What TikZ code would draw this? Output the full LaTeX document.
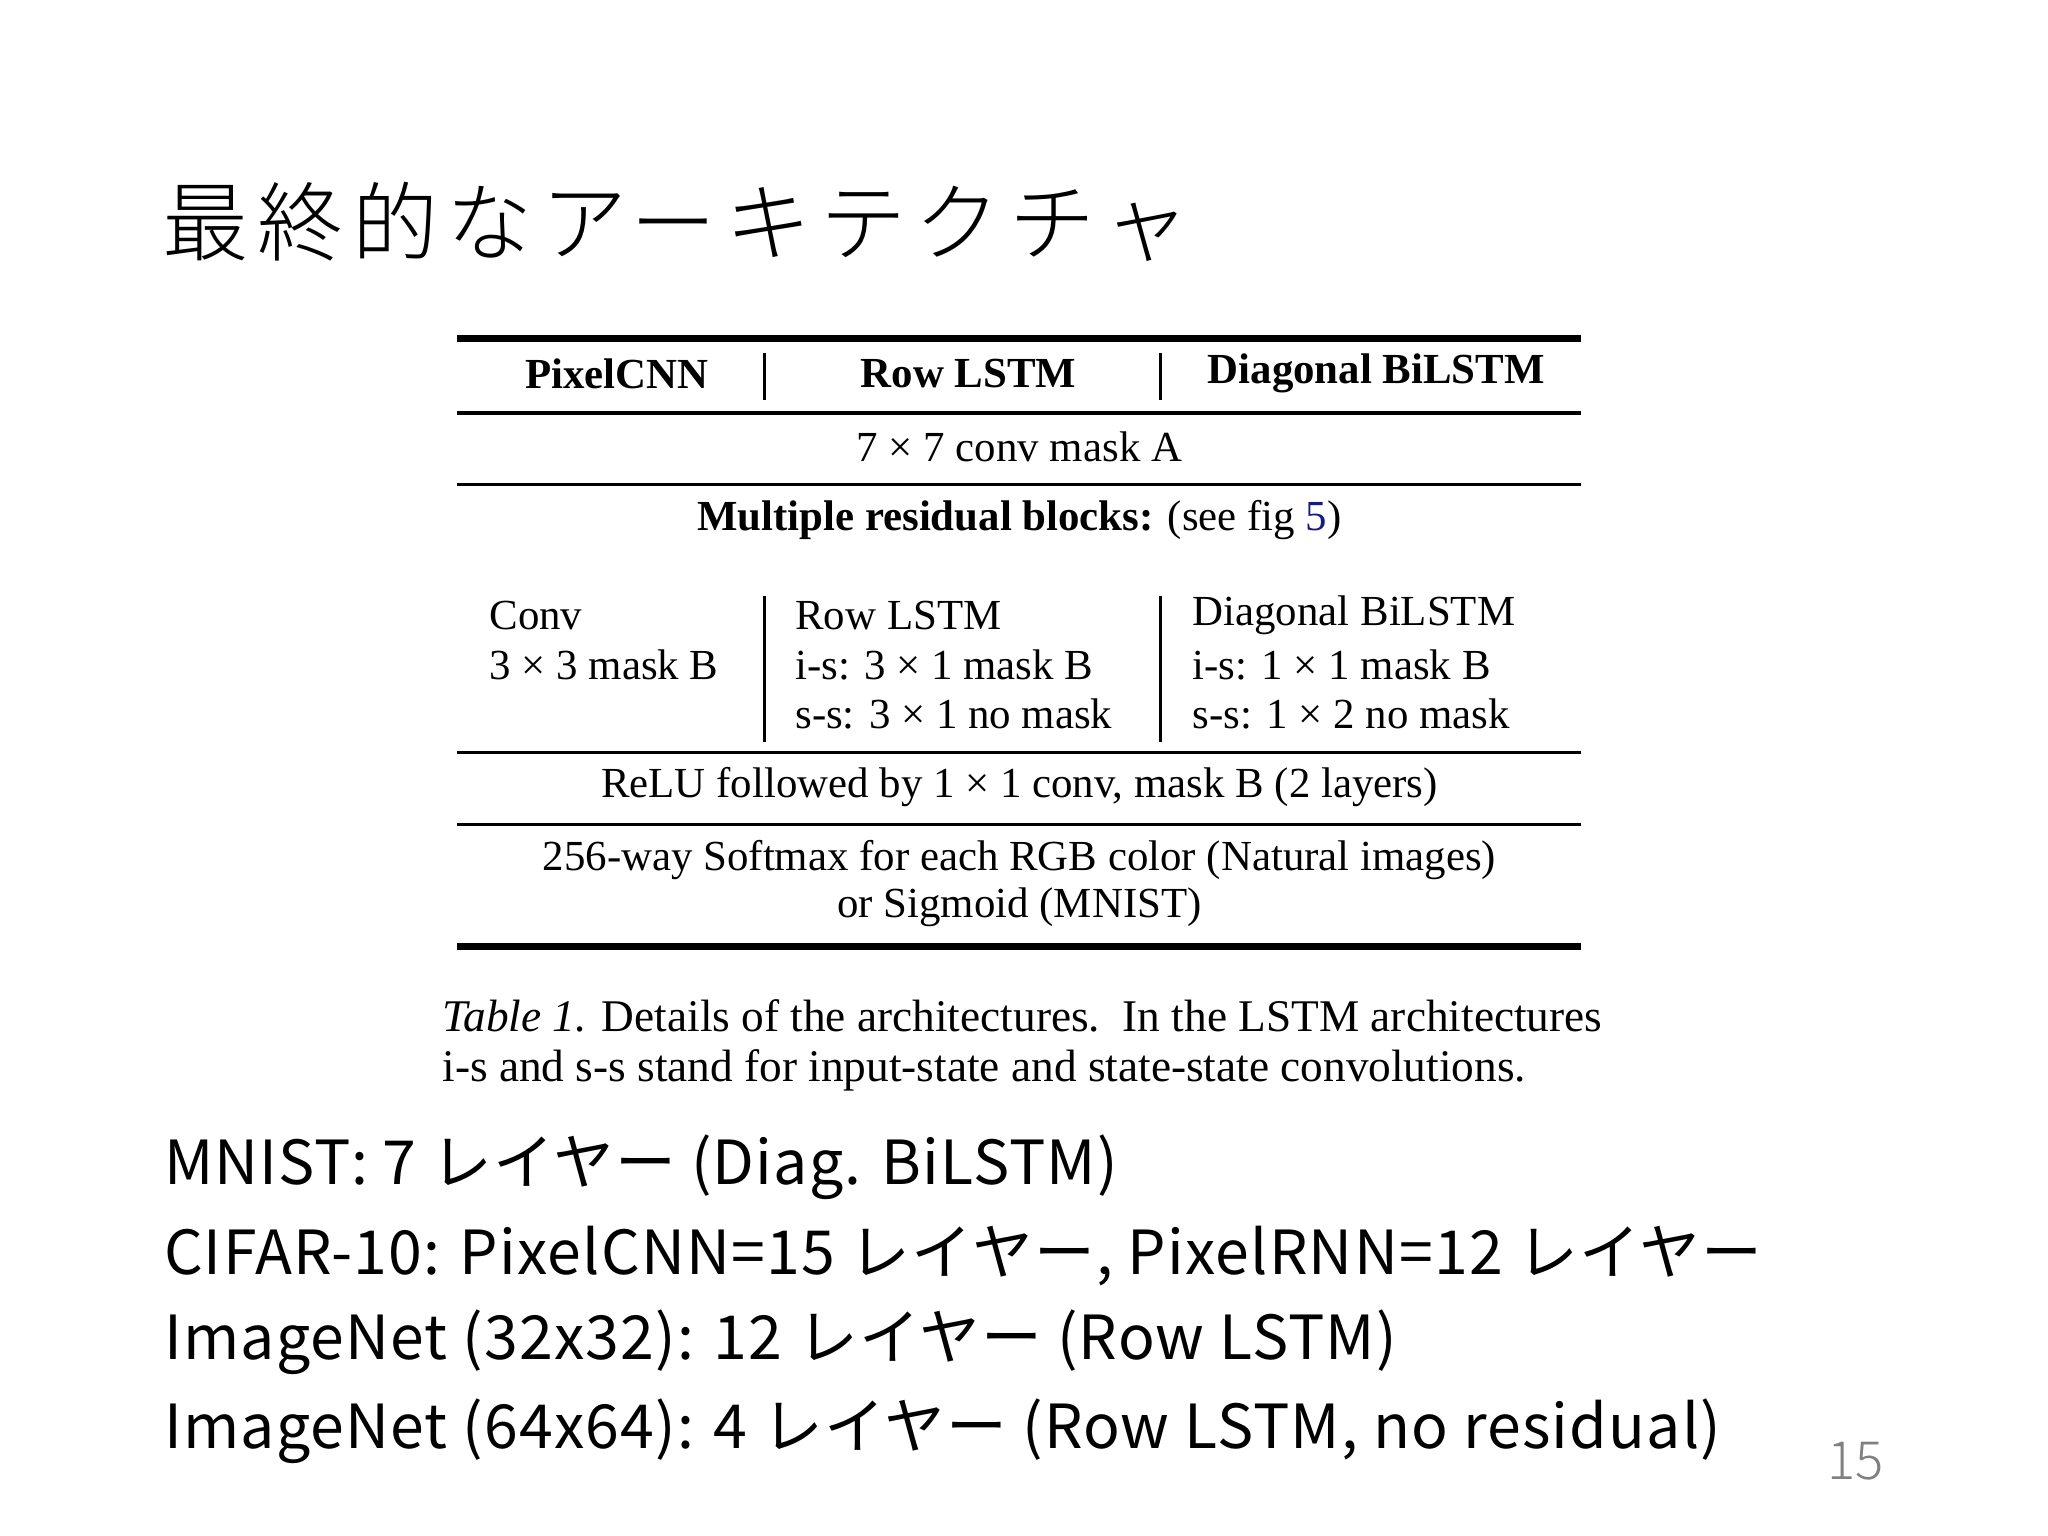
\documentclass[tikz,border=0pt]{standalone}
\usepackage{fontspec}
\setmainfont{Liberation Serif}
\newfontfamily\jp[LetterSpace=2]{Noto Sans CJK JP}
\newfontfamily\jpt[LetterSpace=10]{Noto Sans CJK JP Light}
\newfontfamily\pg{Noto Sans CJK JP Light}
\begin{document}
\begin{tikzpicture}[x=0.013070cm,y=-0.013070cm,
  tt/.style={font=\fontsize{12.2}{14}\selectfont,inner sep=0pt},
  ttl/.style={tt,anchor=west},
  body/.style={font=\jp\fontsize{17.3}{20}\selectfont,anchor=west,inner sep=0pt},
  thin/.style={line width=0.9pt},
  thick/.style={line width=1.9pt}]
\useasboundingbox (0,0) rectangle (1567,1175);
\node[anchor=west,inner sep=0pt,font=\jpt\fontsize{24.5}{28}\selectfont] (title) at (124,170) {最終的なアーキテクチャ};
\coordinate (l1) at (350,259); \coordinate (r1) at (1210,259);
\draw[thick] (l1) -- (r1);
\foreach \y/\n in {316/a,371/b,576/c,631/d}{\coordinate (la\n) at (350,\y); \coordinate (ra\n) at (1210,\y); \draw[thin] (la\n) -- (ra\n);}
\coordinate (l6) at (350,724); \coordinate (r6) at (1210,724);
\draw[thick] (l6) -- (r6);
\foreach \x/\n in {585/p,888/q}{
 \coordinate (t\n) at (\x,270); \coordinate (u\n) at (\x,306); \draw[thin] (t\n) -- (u\n);
 \coordinate (v\n) at (\x,456); \coordinate (w\n) at (\x,568); \draw[thin] (v\n) -- (w\n);}
\node[tt,font=\bfseries\fontsize{12.2}{14}\selectfont] (h1) at (472,286) {PixelCNN};
\node[tt,font=\bfseries\fontsize{12.2}{14}\selectfont] (h2) at (741,286) {Row LSTM};
\node[tt,font=\bfseries\fontsize{12.2}{14}\selectfont] (h3) at (1053,286) {Diagonal BiLSTM};
\node[tt] (c1) at (780,342) {7 × 7 conv mask A};
\node[tt] (c2) at (780,398) {\textbf{Multiple residual blocks:} (see fig \textcolor[rgb]{0.1,0.1,0.5}{5})};
\node[ttl] (a1) at (374,471) {Conv};
\node[ttl] (a2) at (374,509) {3 × 3 mask B};
\node[ttl] (b1) at (608,471) {Row LSTM};
\node[ttl] (b2) at (608,509) {i-s: 3 × 1 mask B};
\node[ttl] (b3) at (608,546) {s-s: 3 × 1 no mask};
\node[ttl] (d1) at (912,471) {Diagonal BiLSTM};
\node[ttl] (d2) at (912,509) {i-s: 1 × 1 mask B};
\node[ttl] (d3) at (912,546) {s-s: 1 × 2 no mask};
\node[tt] (c3) at (780,602) {ReLU followed by 1 × 1 conv, mask B (2 layers)};
\node[tt] (c4) at (780,658) {256-way Softmax for each RGB color (Natural images)};
\node[tt] (c5) at (780,694) {or Sigmoid (MNIST)};
\node[ttl,font=\fontsize{12.9}{14}\selectfont] (cap1) at (338,777) {\textit{Table 1.} Details\ of\ the\ architectures.\ \ In\ the\ LSTM\ architectures};
\node[ttl,font=\fontsize{12.9}{14}\selectfont] (cap2) at (338,819) {i-s and s-s stand for input-state and state-state convolutions.};
\node[body] (m1) at (125,893) {MNIST: 7 レイヤー (Diag. BiLSTM)};
\node[body] (m2) at (125,961) {CIFAR-10: PixelCNN=15 レイヤー, PixelRNN=12 レイヤー};
\node[body] (m3) at (125,1027) {ImageNet (32x32): 12 レイヤー (Row LSTM)};
\node[body] (m4) at (125,1095) {ImageNet (64x64): 4 レイヤー (Row LSTM, no residual)};
\node[anchor=center,inner sep=0pt,text=gray,font=\pg\fontsize{15}{18}\selectfont] (pg) at (1420,1118) {15};
\end{tikzpicture}
\end{document}
